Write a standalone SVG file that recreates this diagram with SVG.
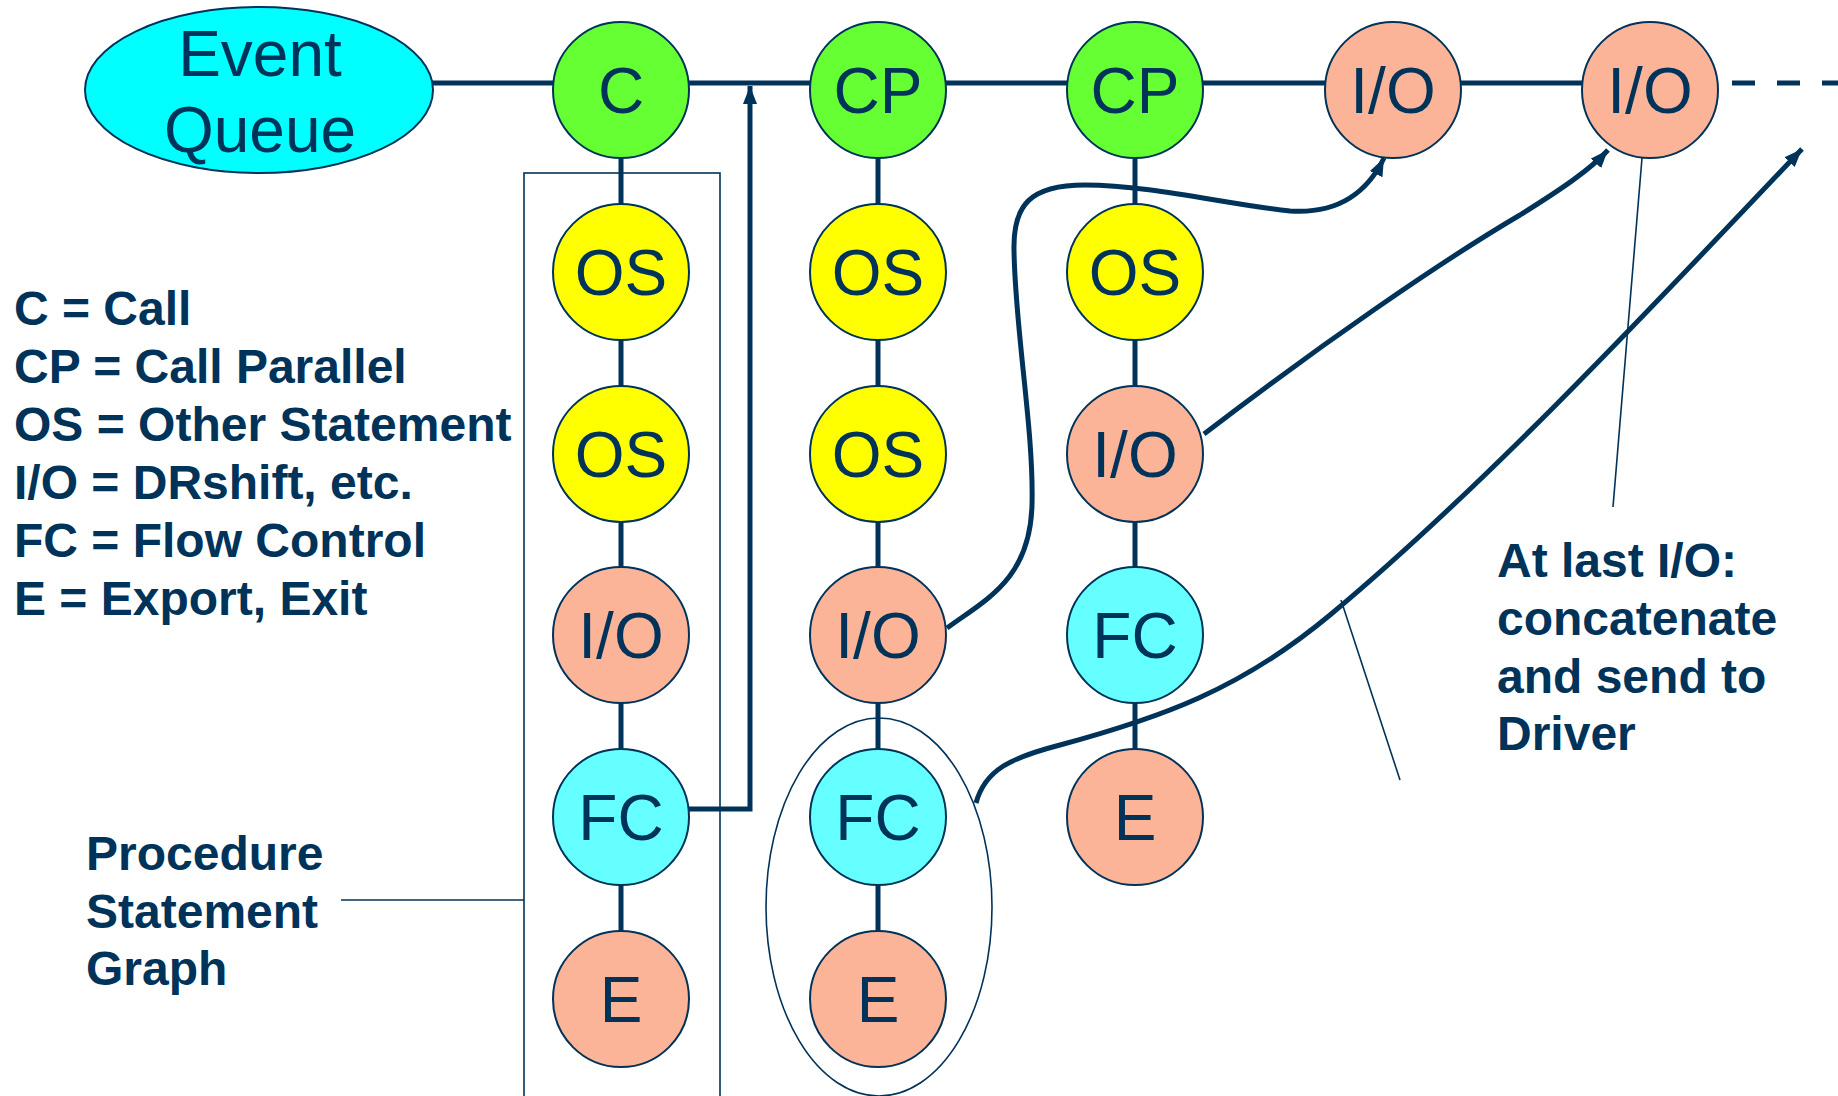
<svg xmlns="http://www.w3.org/2000/svg" width="1838" height="1096" viewBox="0 0 1838 1096">
  <style>
    .bg { fill: #ffffff; }
    .node { stroke: #003359; stroke-width: 2; }
    .green { fill: #66ff33; }
    .yellow { fill: #ffff00; }
    .salmon { fill: #fcb499; }
    .cyan { fill: #66ffff; }
    .queue { fill: #00ffff; }
    .lbl { font-family: "Liberation Sans", Arial, sans-serif; font-size: 64px; fill: #003359; text-anchor: middle; }
    .note { font-family: "Liberation Sans", Arial, sans-serif; font-size: 48px; font-weight: bold; fill: #003359; }
    .wire { stroke: #003359; stroke-width: 5; fill: none; }
    .thin { stroke: #003359; stroke-width: 1.6; fill: none; }
  </style>
  <defs>
    <marker id="arrow" markerUnits="userSpaceOnUse" markerWidth="20" markerHeight="16" refX="18" refY="7" orient="auto">
      <path d="M0,0 L18,7 L0,14 z" fill="#003359"/>
    </marker>
  </defs>

  <rect class="bg" x="0" y="0" width="1838" height="1096"/>

  <!-- grouping outlines -->
  <g id="outlines">
    <rect class="thin" x="524" y="173" width="196" height="930"/>
    <ellipse class="thin" cx="879" cy="907" rx="113" ry="189"/>
  </g>

  <!-- connectors -->
  <g id="connectors">
    <!-- event chain -->
    <line class="wire" x1="430" y1="83" x2="1650" y2="83"/>
    <line class="wire" x1="1732" y1="83" x2="1838" y2="83" stroke-dasharray="23 22"/>
    <!-- statement columns -->
    <line class="wire" x1="621" y1="90" x2="621" y2="999"/>
    <line class="wire" x1="878" y1="90" x2="878" y2="999"/>
    <line class="wire" x1="1135" y1="90" x2="1135" y2="817"/>
    <!-- flow control return to chain -->
    <polyline class="wire" points="688,809 750,809 750,86" marker-end="url(#arrow)"/>
    <!-- I/O hand-offs -->
    <path class="wire" d="M947,628 C985,600 1030,580 1032,505 C1034,430 1015,330 1014,250 C1013,205 1030,185 1085,185 C1150,185 1230,205 1290,211 C1335,214 1366,195 1384,158" marker-end="url(#arrow)"/>
    <path class="wire" d="M1204,434 C1320,345 1440,262 1520,215 C1560,190 1590,170 1608,150" marker-end="url(#arrow)"/>
    <path class="wire" d="M976,803 C985,770 1010,758 1060,745 C1160,718 1240,690 1330,615 C1480,490 1640,320 1802,149" marker-end="url(#arrow)"/>
    <!-- callout pointers -->
    <line class="thin" x1="341" y1="900" x2="524" y2="900"/>
    <line class="thin" x1="1613" y1="507" x2="1642" y2="158"/>
    <line class="thin" x1="1400" y1="780" x2="1341" y2="600"/>
  </g>

  <!-- event queue -->
  <g id="event-queue">
    <ellipse class="node queue" cx="259" cy="90" rx="174" ry="83"/>
    <text class="lbl" x="260" y="76">Event</text>
    <text class="lbl" x="260" y="152">Queue</text>
  </g>

  <!-- column 1: Call -->
  <g id="c1-call"><circle class="node green" cx="621" cy="90" r="68"/><text class="lbl" x="621" y="113">C</text></g>
  <g id="c1-os1"><circle class="node yellow" cx="621" cy="272" r="68"/><text class="lbl" x="621" y="295">OS</text></g>
  <g id="c1-os2"><circle class="node yellow" cx="621" cy="454" r="68"/><text class="lbl" x="621" y="477">OS</text></g>
  <g id="c1-io"><circle class="node salmon" cx="621" cy="635" r="68"/><text class="lbl" x="621" y="658">I/O</text></g>
  <g id="c1-fc"><circle class="node cyan" cx="621" cy="817" r="68"/><text class="lbl" x="621" y="840">FC</text></g>
  <g id="c1-e"><circle class="node salmon" cx="621" cy="999" r="68"/><text class="lbl" x="621" y="1022">E</text></g>

  <!-- column 2: Call Parallel -->
  <g id="c2-cp"><circle class="node green" cx="878" cy="90" r="68"/><text class="lbl" x="878" y="113">CP</text></g>
  <g id="c2-os1"><circle class="node yellow" cx="878" cy="272" r="68"/><text class="lbl" x="878" y="295">OS</text></g>
  <g id="c2-os2"><circle class="node yellow" cx="878" cy="454" r="68"/><text class="lbl" x="878" y="477">OS</text></g>
  <g id="c2-io"><circle class="node salmon" cx="878" cy="635" r="68"/><text class="lbl" x="878" y="658">I/O</text></g>
  <g id="c2-fc"><circle class="node cyan" cx="878" cy="817" r="68"/><text class="lbl" x="878" y="840">FC</text></g>
  <g id="c2-e"><circle class="node salmon" cx="878" cy="999" r="68"/><text class="lbl" x="878" y="1022">E</text></g>

  <!-- column 3: Call Parallel -->
  <g id="c3-cp"><circle class="node green" cx="1135" cy="90" r="68"/><text class="lbl" x="1135" y="113">CP</text></g>
  <g id="c3-os"><circle class="node yellow" cx="1135" cy="272" r="68"/><text class="lbl" x="1135" y="295">OS</text></g>
  <g id="c3-io"><circle class="node salmon" cx="1135" cy="454" r="68"/><text class="lbl" x="1135" y="477">I/O</text></g>
  <g id="c3-fc"><circle class="node cyan" cx="1135" cy="635" r="68"/><text class="lbl" x="1135" y="658">FC</text></g>
  <g id="c3-e"><circle class="node salmon" cx="1135" cy="817" r="68"/><text class="lbl" x="1135" y="840">E</text></g>

  <!-- queued I/O events -->
  <g id="q-io1"><circle class="node salmon" cx="1393" cy="90" r="68"/><text class="lbl" x="1393" y="113">I/O</text></g>
  <g id="q-io2"><circle class="node salmon" cx="1650" cy="90" r="68"/><text class="lbl" x="1650" y="113">I/O</text></g>

  <!-- legend -->
  <g id="legend">
    <text class="note" x="14" y="325">C = Call</text>
    <text class="note" x="14" y="383">CP = Call Parallel</text>
    <text class="note" x="14" y="441">OS = Other Statement</text>
    <text class="note" x="14" y="499">I/O = DRshift, etc.</text>
    <text class="note" x="14" y="557">FC = Flow Control</text>
    <text class="note" x="14" y="615">E = Export, Exit</text>
  </g>

  <g id="label-procedure">
    <text class="note" x="86" y="870">Procedure</text>
    <text class="note" x="86" y="928">Statement</text>
    <text class="note" x="86" y="985">Graph</text>
  </g>

  <g id="label-last-io">
    <text class="note" x="1497" y="577">At last I/O:</text>
    <text class="note" x="1497" y="635">concatenate</text>
    <text class="note" x="1497" y="693">and send to</text>
    <text class="note" x="1497" y="750">Driver</text>
  </g>
</svg>
